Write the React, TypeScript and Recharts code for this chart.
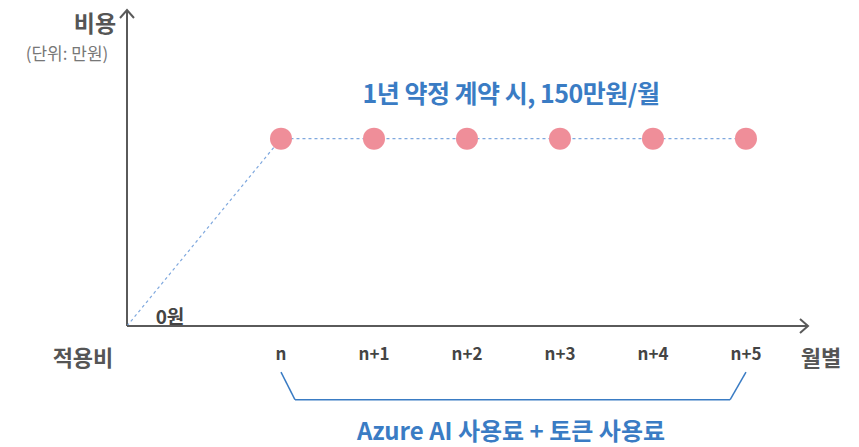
import React from 'react';
import { LineChart, Line, XAxis, YAxis, ReferenceDot, ReferenceLine } from 'recharts';

// month slots (n = 0), origin sits left of the first month
const monthLabels = ['n', 'n+1', 'n+2', 'n+3', 'n+4', 'n+5'];
const monthIndex = [0, 1, 2, 3, 4, 5];
const monthlyCost = [150, 150, 150, 150, 150, 150];
const originX = -1.656;
const axisEndX = 5.667;
const axisTopY = 253;

const data = [
  { x: originX, cost: 0 },
  ...monthIndex.map((m, i) => ({ x: m, cost: monthlyCost[i] })),
];

const BLUE = '#3a7cc4';
const PINK = '#ef8e99';
const AXIS = '#5a5a5a';
const FONT = '"Noto Sans CJK KR", "Noto Sans", sans-serif';

// eslint-disable-next-line @typescript-eslint/no-explicit-any
function Dot(props: any) {
  const { cx, cy, index } = props;
  if (index === 0) return null;
  return <circle key={index} cx={cx} cy={cy} r={11} fill={PINK} />;
}

// eslint-disable-next-line @typescript-eslint/no-explicit-any
const ArrowRight = (p: any) => (
  <polyline points={`${p.cx - 8},${p.cy - 7} ${p.cx},${p.cy} ${p.cx - 8},${p.cy + 7}`} fill="none" stroke={AXIS} strokeWidth={2} />
);
// eslint-disable-next-line @typescript-eslint/no-explicit-any
const ArrowUp = (p: any) => (
  <polyline points={`${p.cx - 7},${p.cy + 8} ${p.cx},${p.cy} ${p.cx + 7},${p.cy + 8}`} fill="none" stroke={AXIS} strokeWidth={2} />
);

const label = (x: number, y: number, text: string, style: React.CSSProperties = {}) => (
  <div
    style={{
      position: 'absolute', left: x, top: y, transform: 'translate(-50%, -50%)',
      whiteSpace: 'nowrap', fontFamily: FONT, color: '#555', lineHeight: 1, ...style,
    }}
  >
    {text}
  </div>
);

export default function App() {
  return (
    <div style={{ position: 'absolute', left: 0, top: 0, width: 859, height: 447, background: '#fff', overflow: 'hidden' }}>
      <LineChart width={859} height={447} data={data} margin={{ top: 10, right: 51, bottom: 91, left: 127 }}>
        <XAxis
          dataKey="x"
          type="number"
          domain={[originX, axisEndX]}
          ticks={monthIndex}
          tickFormatter={(v: number) => monthLabels[v] ?? ''}
          allowDataOverflow
          height={30}
          tickLine={false}
          tickMargin={16}
          axisLine={{ stroke: AXIS, strokeWidth: 2 }}
          tick={{ fontSize: 17, fill: '#444', fontFamily: FONT, fontWeight: 600 }}
        />
        <YAxis type="number" domain={[0, axisTopY]} hide />
        <ReferenceLine
          segment={[{ x: originX, y: 0 }, { x: originX, y: axisTopY }]}
          stroke={AXIS}
          strokeWidth={2}
          ifOverflow="visible"
        />
        <ReferenceLine segment={[{ x: 0, y: -37 }, { x: 0.15, y: -59 }]} stroke={BLUE} strokeWidth={1.5} ifOverflow="visible" />
        <ReferenceLine segment={[{ x: 0.15, y: -59 }, { x: 4.83, y: -59 }]} stroke={BLUE} strokeWidth={1.5} ifOverflow="visible" />
        <ReferenceLine segment={[{ x: 4.83, y: -59 }, { x: 5, y: -37 }]} stroke={BLUE} strokeWidth={1.5} ifOverflow="visible" />
        <ReferenceDot x={axisEndX} y={0} ifOverflow="visible" shape={ArrowRight} />
        <ReferenceDot x={originX} y={axisTopY} ifOverflow="visible" shape={ArrowUp} />
        <Line
          dataKey="cost"
          stroke="#7fa8de"
          strokeWidth={1.2}
          strokeDasharray="3 3"
          dot={Dot}
          activeDot={false}
          isAnimationActive={false}
        />
      </LineChart>
      {label(95, 22, '비용', { fontSize: 23, fontWeight: 700 })}
      {label(67, 52, '(단위: 만원)', { fontSize: 17, color: '#777' })}
      {label(170, 315, '0원', { fontSize: 19, fontWeight: 700, color: '#444' })}
      {label(83, 356, '적용비', { fontSize: 22, fontWeight: 700 })}
      {label(821, 356, '월별', { fontSize: 22, fontWeight: 700 })}
      {label(511, 92, '1년 약정 계약 시, 150만원/월', { fontSize: 25, fontWeight: 700, color: BLUE, letterSpacing: -0.5 })}
      {label(511, 430, 'Azure AI 사용료 + 토큰 사용료', { fontSize: 24, fontWeight: 700, color: BLUE })}
    </div>
  );
}
